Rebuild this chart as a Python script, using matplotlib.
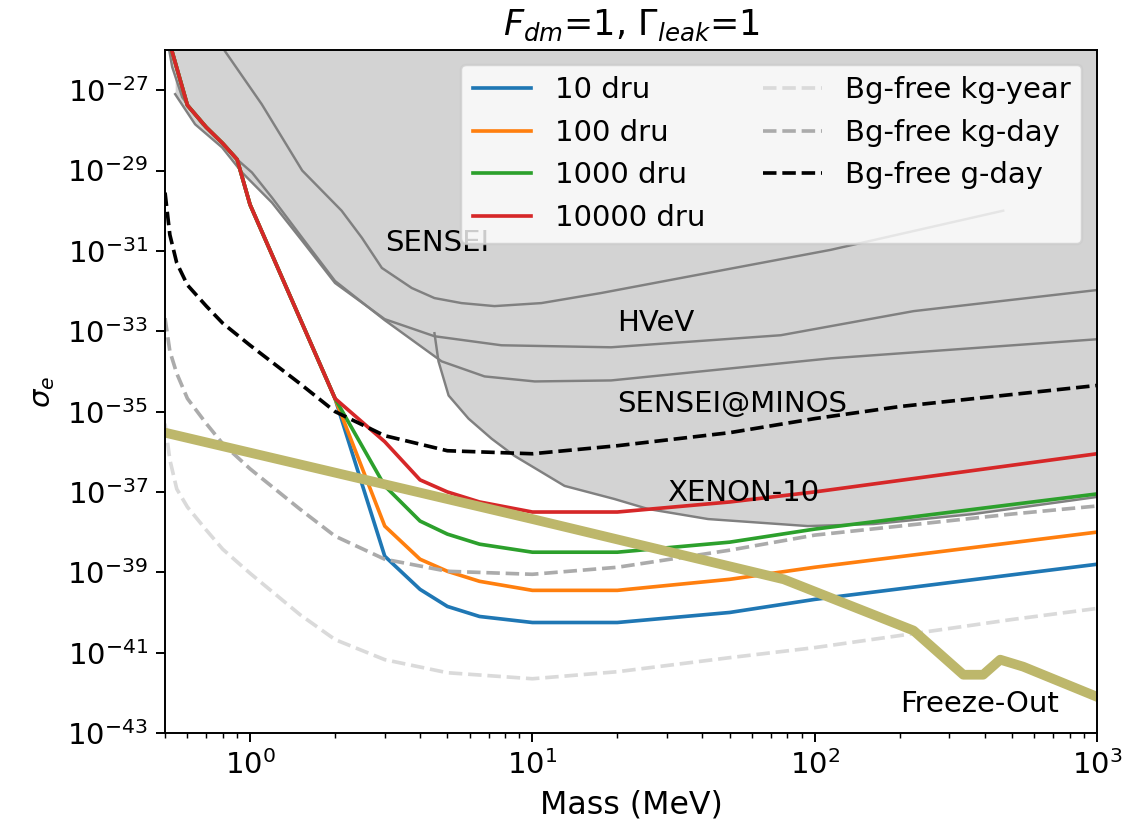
import numpy as np
import matplotlib
matplotlib.use("Agg")
import matplotlib.pyplot as plt

# ---------------- data (cross-sections stored as log10 values) ----------------
# Experimental constraints (gray shaded, excluded above the curves)
sensei_mass = [0.752, 1.10, 1.53, 2.11, 2.49, 2.93, 3.74, 4.50, 5.61, 7.34, 10.76, 17.5, 33.6, 113.9, 465]
sensei_logsig = [-25.675, -27.35, -29.0, -30.0, -30.675, -31.425, -31.925, -32.175, -32.3, -32.375,
                 -32.3, -32.05, -31.675, -30.975, -30.0]

hvev_mass = [0.543, 0.639, 0.796, 0.937, 1.196, 1.53, 2.0, 3.0, 4.5, 7.77, 19.0, 75.8, 224, 1000]
hvev_logsig = [-27.1, -27.85, -28.425, -29.05, -29.8, -30.75, -31.8, -32.7, -33.125, -33.35,
               -33.4, -33.1, -32.5, -31.975]

minos_mass = [0.5, 0.53, 0.575, 0.677, 0.796, 0.90, 1.016, 1.196, 1.53, 2.0, 3.0, 4.77, 6.77,
              10.2, 19.0, 113.9, 1000]
minos_logsig = [-25.425, -26.425, -27.175, -27.85, -28.3, -28.725, -29.05, -29.675, -30.675,
                -31.75, -32.725, -33.75, -34.125, -34.25, -34.225, -33.675, -33.2]

xenon_mass = [4.5, 4.65, 5.05, 5.94, 7.17, 8.63, 13.0, 19.5, 25.7, 41.9, 94.5, 161.6, 365, 1000]
xenon_logsig = [-33.05, -33.75, -34.6, -35.175, -35.675, -36.1, -36.85, -37.175, -37.425,
                -37.675, -37.85, -37.8, -37.55, -37.125]

# Projections for different background rates
dru_mass = [0.5, 0.6, 0.7, 0.8, 0.9, 1, 2, 3, 4, 5, 6.5, 10, 20, 50, 100, 1000]
dru10_logsig = [-25.425, -27.375, -27.925, -28.325, -28.725, -29.85, -34.675, -38.6, -39.425,
                -39.85, -40.1, -40.25, -40.25, -40.0, -39.675, -38.8]
dru100_logsig = [-25.425, -27.375, -27.925, -28.325, -28.725, -29.85, -34.675, -37.85, -38.675,
                 -38.975, -39.225, -39.45, -39.45, -39.175, -38.875, -38.0]
dru1000_logsig = [-25.425, -27.375, -27.925, -28.325, -28.725, -29.85, -34.675, -36.85, -37.725,
                  -38.05, -38.3, -38.5, -38.5, -38.25, -37.925, -37.05]
dru10000_logsig = [-25.425, -27.375, -27.925, -28.325, -28.725, -29.85, -34.675, -35.75, -36.7,
                   -37.0, -37.25, -37.5, -37.5, -37.25, -37.0, -36.05]
dru_labels = ["10 dru", "100 dru", "1000 dru", "10000 dru"]

# Background-free projections
bgfree_mass = [0.5, 0.52, 0.55, 0.6, 0.7, 0.8, 1, 1.5, 2, 3, 5, 10, 20, 50, 100, 200, 500, 1000]
kgyear_logsig = [-35.3, -36.2, -36.925, -37.375, -37.95, -38.425, -39.025, -40.05, -40.675, -41.175,
                 -41.5, -41.65, -41.475, -41.125, -40.875, -40.575, -40.175, -39.9]
kgday_logsig = [-32.675, -33.5, -34.05, -34.675, -35.3, -35.8, -36.425, -37.425, -38.1, -38.675,
                -38.975, -39.05, -38.875, -38.45, -38.075, -37.85, -37.55, -37.35]
gday_logsig = [-29.55, -30.6, -31.3, -31.85, -32.375, -32.8, -33.35, -34.3, -35.0, -35.6, -35.975,
               -36.05, -35.85, -35.525, -35.175, -34.875, -34.575, -34.35]
bgfree_labels = ["Bg-free kg-year", "Bg-free kg-day", "Bg-free g-day"]

# Freeze-out target
fo_mass = [0.5, 10.0, 77.7, 223.8, 336, 395, 454, 548, 1000]
fo_logsig = [-35.525, -37.675, -39.175, -40.45, -41.55, -41.55, -41.175, -41.35, -42.1]

ytick_exponents = [-43, -41, -39, -37, -35, -33, -31, -29, -27]

# ---------------- plot ----------------
plt.rcParams["font.size"] = 12
DPI = 175
fig = plt.figure(figsize=(1143 / DPI, 826 / DPI), dpi=DPI)
ax = fig.add_axes([0.1444, 0.1126, 0.8154, 0.8269])
ax.set_xscale("log")
ax.set_yscale("log")

TOP = 1e-20
for m, s in [(sensei_mass, sensei_logsig), (hvev_mass, hvev_logsig),
             (minos_mass, minos_logsig), (xenon_mass, xenon_logsig)]:
    ax.fill_between(m, 10.0 ** np.array(s), TOP, color="lightgray", lw=0, zorder=1)
for m, s in [(sensei_mass, sensei_logsig), (hvev_mass, hvev_logsig),
             (minos_mass, minos_logsig), (xenon_mass, xenon_logsig)]:
    ax.plot(m, 10.0 ** np.array(s), color="gray", lw=1.0, zorder=1.5)

dru_colors = ["tab:blue", "tab:orange", "tab:green", "tab:red"]
for s, c, lab in zip([dru10_logsig, dru100_logsig, dru1000_logsig, dru10000_logsig],
                     dru_colors, dru_labels):
    ax.plot(dru_mass, 10.0 ** np.array(s), color=c, lw=1.5, label=lab, zorder=2)

bg_colors = ["#dadada", "#ababab", "black"]
for s, c, lab in zip([kgyear_logsig, kgday_logsig, gday_logsig], bg_colors, bgfree_labels):
    ax.plot(bgfree_mass, 10.0 ** np.array(s), color=c, ls="--", lw=1.5, label=lab, zorder=2)

ax.plot(fo_mass, 10.0 ** np.array(fo_logsig), color="darkkhaki", lw=4, zorder=2.5)

ax.text(3, 1e-31, "SENSEI", fontsize=12)
ax.text(20, 1e-33, "HVeV", fontsize=12)
ax.text(20, 1e-35, "SENSEI@MINOS", fontsize=12)
ax.text(30, 6e-38, "XENON-10", fontsize=12)
ax.text(200, 3.3e-43, "Freeze-Out", fontsize=12)

ax.set_xlim(0.5, 1000)
ax.set_ylim(1e-43, 1e-26)
ax.set_yticks([10.0 ** e for e in ytick_exponents])
ax.set_yticklabels([r"$10^{%d}$" % e for e in ytick_exponents])
ax.yaxis.set_minor_locator(matplotlib.ticker.NullLocator())
ax.tick_params(labelsize=12)

ax.set_xlabel("Mass (MeV)", fontsize=13)
ax.set_ylabel(r"$\sigma_e$", fontsize=12)
ax.set_title(r"$F_{dm}$=1, $\Gamma_{leak}$=1", fontsize=14.4)
ax.legend(loc="upper right", ncol=2, fontsize=12)

fig.savefig("out.png", dpi=DPI)
